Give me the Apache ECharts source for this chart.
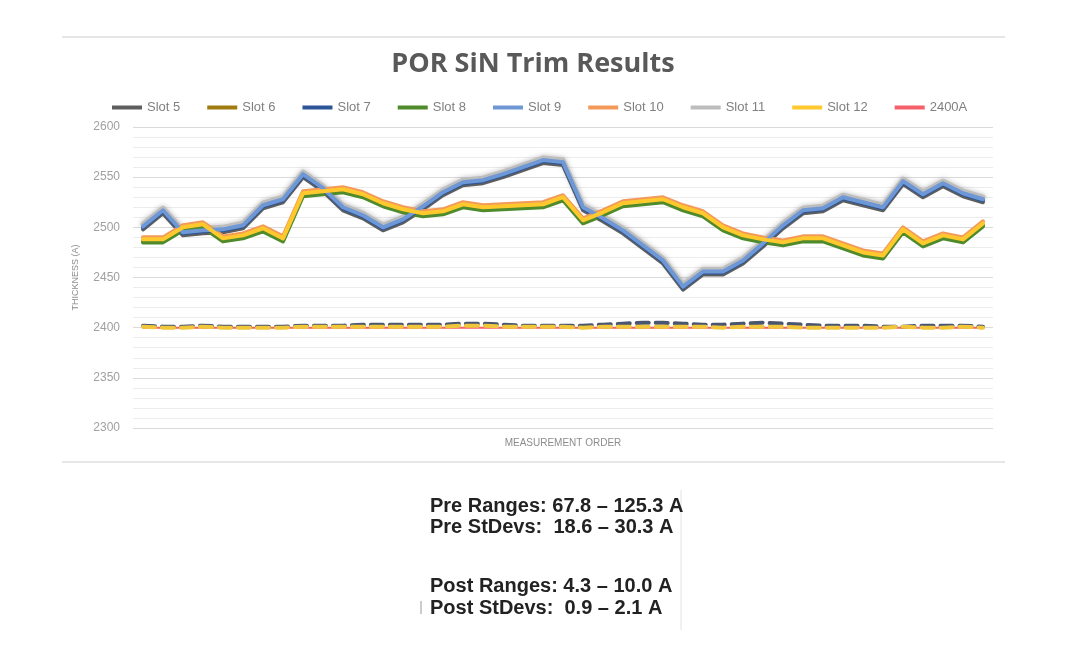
<!DOCTYPE html>
<html>
<head>
<meta charset="utf-8">
<script src="https://cdn.jsdelivr.net/npm/echarts@6/dist/echarts.min.js"></script>
<style>
  html, body { margin: 0; padding: 0; background: #fff; }
  #chart { width: 1080px; height: 651px; }
</style>
</head>
<body>
<div id="chart"></div>
<script>
// measurement order 1..43
const categories = ['1','2','3','4','5','6','7','8','9','10','11','12','13','14','15','16','17','18','19','20','21','22','23','24','25','26','27','28','29','30','31','32','33','34','35','36','37','38','39','40','41','42','43'];

// pre-trim, upper band
const slot5 = [2498,2514,2492,2494,2495,2499,2519,2525,2550,2536,2517,2509,2497,2505,2518,2532,2542,2544,2550,2557,2564,2562,2517,2506,2494,2479,2464,2438,2453,2453,2464,2481,2499,2514,2516,2527,2522,2517,2543,2530,2541,2531,2525];
const slot7 = [2500,2516,2494,2496,2497,2501,2521,2527,2552,2538,2519,2511,2499,2507,2520,2534,2544,2546,2552,2559,2566,2564,2519,2508,2496,2481,2466,2440,2455,2455,2466,2483,2501,2516,2518,2529,2524,2519,2545,2532,2543,2533,2527];
const slot9 = [2501,2517,2495,2497,2498,2502,2522,2528,2553,2539,2520,2512,2500,2508,2521,2535,2545,2547,2553,2560,2567,2565,2520,2509,2497,2482,2467,2441,2456,2456,2467,2484,2502,2517,2519,2530,2525,2520,2546,2533,2544,2534,2528];
const slot11 = [2503,2519,2497,2499,2500,2504,2524,2530,2555,2541,2522,2514,2502,2510,2523,2537,2547,2549,2555,2562,2569,2567,2522,2511,2499,2484,2469,2443,2458,2458,2469,2486,2504,2519,2521,2532,2527,2522,2548,2535,2546,2536,2530];

// pre-trim, lower band
const slot6 = [2487,2487,2499,2502,2488,2491,2498,2488,2533,2535,2537,2532,2523,2517,2513,2515,2522,2519,2520,2521,2522,2529,2506,2514,2523,2525,2527,2519,2513,2499,2491,2487,2484,2488,2488,2481,2474,2471,2497,2483,2491,2487,2503];
const slot8 = [2485,2485,2497,2500,2486,2489,2496,2486,2531,2533,2535,2530,2521,2515,2511,2513,2520,2517,2518,2519,2520,2527,2504,2512,2521,2523,2525,2517,2511,2497,2489,2485,2482,2486,2486,2479,2472,2469,2495,2481,2489,2485,2501];
const slot10 = [2490,2490,2502,2505,2491,2494,2501,2491,2536,2538,2540,2535,2526,2520,2516,2518,2525,2522,2523,2524,2525,2532,2509,2517,2526,2528,2530,2522,2516,2502,2494,2490,2487,2491,2491,2484,2477,2474,2500,2486,2494,2490,2506];
const slot12 = [2488,2488,2500,2503,2489,2492,2499,2489,2534,2536,2538,2533,2524,2518,2514,2516,2523,2520,2521,2522,2523,2530,2507,2515,2524,2526,2528,2520,2514,2500,2492,2488,2485,2489,2489,2482,2475,2472,2498,2484,2492,2488,2504];

// post-trim (dashed) and target
const postDark = [2402,2401,2401,2402,2401,2401,2401,2401,2402,2402,2402,2403,2403,2403,2403,2403,2404,2404,2403,2402,2402,2402,2402,2403,2404,2405,2405,2404,2403,2403,2404,2405,2404,2403,2402,2402,2402,2401,2401,2402,2402,2402,2401];
const postYellow = [2401,2400,2400,2401,2400,2400,2400,2400,2401,2401,2401,2401,2401,2401,2401,2401,2402,2402,2401,2401,2401,2401,2400,2401,2401,2401,2401,2401,2401,2400,2401,2401,2401,2400,2400,2400,2400,2400,2401,2400,2400,2401,2400];
const target2400 = [2400,2400,2400,2400,2400,2400,2400,2400,2400,2400,2400,2400,2400,2400,2400,2400,2400,2400,2400,2400,2400,2400,2400,2400,2400,2400,2400,2400,2400,2400,2400,2400,2400,2400,2400,2400,2400,2400,2400,2400,2400,2400,2400];

const legendNames = ['Slot 5','Slot 6','Slot 7','Slot 8','Slot 9','Slot 10','Slot 11','Slot 12','2400A'];
const statLines = ['Pre Ranges: 67.8 – 125.3 A', 'Pre StDevs:  18.6 – 30.3 A', 'Post Ranges: 4.3 – 10.0 A', 'Post StDevs:  0.9 – 2.1 A'];

const chart = echarts.init(document.getElementById('chart'));
const narrow = '"Liberation Sans Narrow", "Liberation Sans", sans-serif';

function line(name, data, color, width, z, extra) {
  return Object.assign({
    name, type: 'line', data, symbol: 'none', z,
    lineStyle: { color, width, cap: 'round', join: 'round' },
    itemStyle: { color },
    emphasis: { disabled: true }
  }, extra || {});
}

const dashed = { type: [12, 7], cap: 'round' };

chart.setOption({
  animation: false,
  title: {
    text: 'POR SiN Trim Results', left: 528, top: 46, textAlign: 'center',
    textStyle: { color: '#595959', fontSize: 27, fontWeight: 'bold', fontFamily: '"Open Sans", Lato, sans-serif' }
  },
  legend: {
    data: legendNames, left: 107, top: 96, icon: 'rect', itemWidth: 30, itemHeight: 4, itemGap: 27,
    textStyle: { color: '#808080', fontSize: 13, fontFamily: narrow }
  },
  grid: { left: 133, right: 87, top: 127, bottom: 223 },
  xAxis: {
    type: 'category', data: categories, boundaryGap: true,
    name: 'MEASUREMENT ORDER', nameLocation: 'middle', nameGap: 10,
    nameTextStyle: { color: '#8c8c8c', fontSize: 10, fontFamily: '"Liberation Sans", sans-serif' },
    axisLine: { show: false }, axisTick: { show: false }, axisLabel: { show: false }
  },
  yAxis: {
    type: 'value', min: 2300, max: 2600, interval: 50,
    name: 'THICKNESS (A)', nameLocation: 'middle', nameGap: 53,
    nameTextStyle: { color: '#8c8c8c', fontSize: 9, fontFamily: narrow },
    axisLine: { show: false }, axisTick: { show: false },
    axisLabel: { color: '#a0a0a0', fontSize: 12, margin: 13, fontFamily: narrow, formatter: v => String(v) },
    splitLine: { lineStyle: { color: '#dadada', width: 1 } },
    minorTick: { show: false, splitNumber: 5 },
    minorSplitLine: { show: true, lineStyle: { color: '#ececec', width: 1 } }
  },
  graphic: [
    { type: 'line', shape: { x1: 62, y1: 37, x2: 1005, y2: 37 }, style: { stroke: '#e6e6e6', lineWidth: 2 } },
    { type: 'line', shape: { x1: 62, y1: 462, x2: 1005, y2: 462 }, style: { stroke: '#e6e6e6', lineWidth: 2 } },
    { type: 'line', shape: { x1: 681, y1: 490, x2: 681, y2: 630 }, style: { stroke: '#e2e2e2', lineWidth: 1 } },
    { type: 'line', shape: { x1: 421, y1: 601, x2: 421, y2: 614 }, style: { stroke: '#999', lineWidth: 1 } },
    ...statLines.map((t, i) => ({
      type: 'text', left: 430, top: [496, 517, 576, 598][i],
      style: { text: t, fill: '#222', font: 'bold 20px "Liberation Sans", Arial, sans-serif' }
    }))
  ],
  series: [
    line('Slot 5', slot5, '#5e5e5e', 4, 2),
    line('Slot 6', slot6, '#a07c10', 4, 2),
    line('Slot 7', slot7, '#2c5597', 4, 3),
    line('Slot 8', slot8, '#4f8a2b', 4, 2),
    line('Slot 9', slot9, '#6e97d6', 4, 4),
    line('Slot 10', slot10, '#f39a5a', 4, 3),
    line('Slot 11', slot11, '#bdbdbd', 5, 1, { lineStyle: { color: '#bdbdbd', width: 5, cap: 'round', join: 'round', shadowBlur: 5, shadowColor: 'rgba(120,120,120,0.55)' } }),
    line('Slot 12', slot12, '#ffc92e', 4, 4),
    line('2400A', target2400, '#f5606a', 2, 2),
    line('Post A', postDark, '#4a5570', 4, 3, { lineStyle: Object.assign({ color: '#4a5570', width: 4 }, dashed) }),
    line('Post B', postYellow, '#f0c63a', 4, 4, { lineStyle: Object.assign({ color: '#f0c63a', width: 4 }, dashed) })
  ]
});
</script>
</body>
</html>
